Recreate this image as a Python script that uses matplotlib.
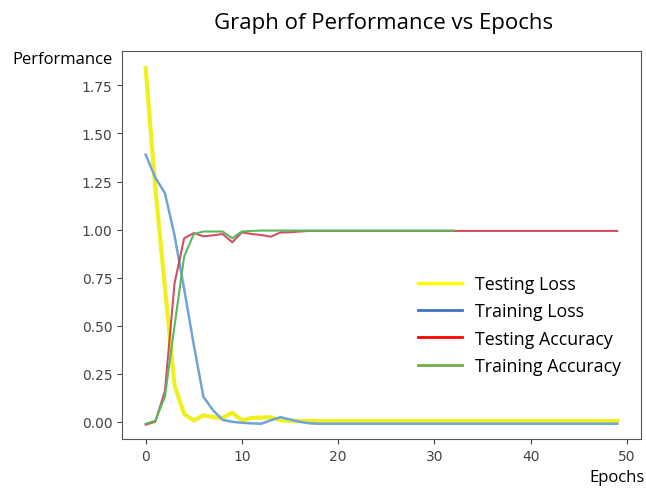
# Training / testing curves of loss and accuracy per epoch
import matplotlib
matplotlib.use('Agg')
import matplotlib.pyplot as plt
from matplotlib.lines import Line2D

# Data
epochs = list(range(50))
testing_loss = [1.84, 1.22, 0.70, 0.19, 0.04, 0.007, 0.033, 0.025, 0.02, 0.047,
                0.007, 0.02, 0.022, 0.024, 0.008, 0.004] + [0.004] * 34
training_loss = [1.39, 1.27, 1.19, 0.97, 0.69, 0.40, 0.13, 0.06, 0.01, 0.0,
                 -0.005, -0.008, -0.01, 0.008, 0.024, 0.012, 0.0, -0.008] + [-0.01] * 32
testing_acc = [-0.015, 0.0, 0.16, 0.72, 0.955, 0.982, 0.965, 0.97, 0.977, 0.934,
               0.986, 0.977, 0.972, 0.963, 0.985, 0.986, 0.99] + [0.993] * 33
training_acc = [-0.01, 0.005, 0.13, 0.50, 0.86, 0.977, 0.99, 0.99, 0.99, 0.955,
                0.99, 0.993] + [0.995] * 21
labels = ['Testing Loss', 'Training Loss', 'Testing Accuracy', 'Training Accuracy']

fig = plt.figure(figsize=(6.46, 4.89), dpi=100)
ax = fig.add_axes([0.189, 0.100, 0.803, 0.794])

ax.plot(epochs, testing_loss, color='#f0f020', linewidth=3, label=labels[0])
ax.plot(epochs, training_loss, color='#6fa5d6', linewidth=1.8, label=labels[1])
ax.plot(epochs, testing_acc, color='#c8324a', linewidth=1.5, alpha=0.85, label=labels[2])
ax.plot(epochs[:len(training_acc)], training_acc, color='#5cb85c', linewidth=1.5,
        label=labels[3])

ax.set_ylim(-0.09, 1.93)
ax.set_yticks([0.0, 0.25, 0.5, 0.75, 1.0, 1.25, 1.5, 1.75])
ax.set_xticks([0, 10, 20, 30, 40, 50])
ax.tick_params(colors='#444444', labelsize=10)
for s in ax.spines.values():
    s.set_color('#555555')

# Legend drawn with office-style colours
handles = [Line2D([], [], color=c, linewidth=2.5 if i == 0 else 2)
           for i, c in enumerate(['#ffff00', '#4472c4', '#ff0000', '#70ad47'])]
fig.legend(handles, labels, loc='upper left', bbox_to_anchor=(0.622, 0.468),
           frameon=False, handlelength=2.5, handletextpad=0.7, labelspacing=0.52,
           prop={'family': 'Open Sans', 'size': 12.8})

fig.text(0.593, 0.952, 'Graph of Performance vs Epochs', ha='center', va='center',
         family='Open Sans', fontsize=16)
fig.text(0.019, 0.877, 'Performance', ha='left', va='center',
         family='Open Sans', fontsize=12)
fig.text(0.998, 0.0225, 'Epochs', ha='right', va='center',
         family='Open Sans', fontsize=12)

fig.savefig('out.png', dpi=100)
